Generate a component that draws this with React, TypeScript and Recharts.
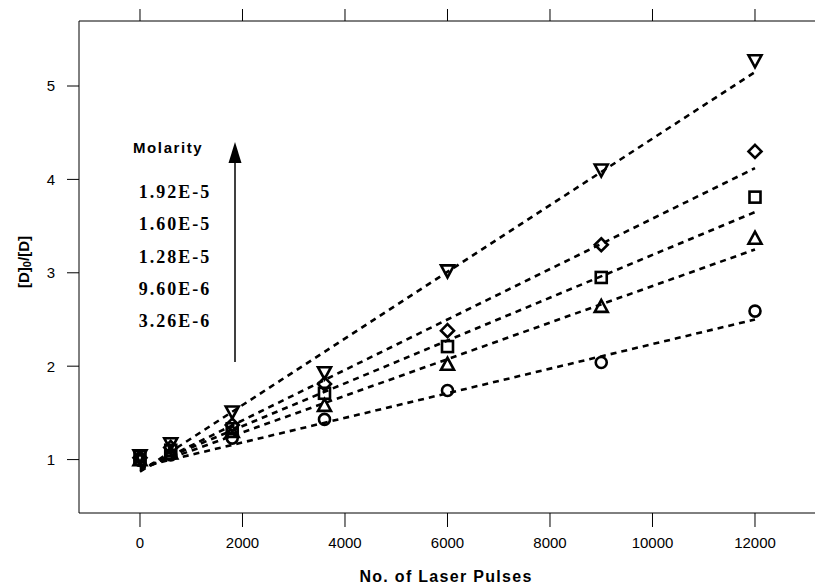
import { ComposedChart, Scatter, Line, XAxis, YAxis } from 'recharts';

// x positions (number of laser pulses)
const pulses = [0, 600, 1800, 3600, 6000, 9000, 12000];
const xTicks = [0, 2000, 4000, 6000, 8000, 10000, 12000];
const yTicks = [1, 2, 3, 4, 5];

// [D]0/[D] per molarity
const s192 = [1.04, 1.17, 1.51, 1.93, 3.02, 4.1, 5.27];
const s160 = [1.02, 1.13, 1.37, 1.81, 2.38, 3.3, 4.3];
const s128 = [1.03, 1.1, 1.33, 1.71, 2.21, 2.95, 3.81];
const s960 = [1.0, 1.07, 1.3, 1.58, 2.02, 2.64, 3.37];
const s326 = [0.99, 1.05, 1.23, 1.43, 1.74, 2.04, 2.59];

// fitted lines, read at both ends
const fitX = [0, 12000];
const fit192 = [0.87, 5.15];
const fit160 = [0.88, 4.12];
const fit128 = [0.9, 3.65];
const fit960 = [0.9, 3.25];
const fit326 = [0.92, 2.5];

const molarities = ['1.92E-5', '1.60E-5', '1.28E-5', '9.60E-6', '3.26E-6'];

const toPoints = (xs: number[], ys: number[]) => xs.map((x, i) => ({ x, y: ys[i] }));

const R = 6.5;
const mk = { fill: 'none', stroke: '#000', strokeWidth: 2.6 };

const DownTri = (p: any) => (
  <path d={`M${p.cx - R},${p.cy - R + 1}L${p.cx + R},${p.cy - R + 1}L${p.cx},${p.cy + R}Z`} {...mk} />
);
const UpTri = (p: any) => (
  <path d={`M${p.cx - R},${p.cy + R - 1}L${p.cx + R},${p.cy + R - 1}L${p.cx},${p.cy - R}Z`} {...mk} />
);
const Diamond = (p: any) => (
  <path d={`M${p.cx},${p.cy - R}L${p.cx + R},${p.cy}L${p.cx},${p.cy + R}L${p.cx - R},${p.cy}Z`} {...mk} />
);
const Square = (p: any) => (
  <rect x={p.cx - 5.5} y={p.cy - 5.5} width={11} height={11} {...mk} />
);
const Circle = (p: any) => <circle cx={p.cx} cy={p.cy} r={5.5} {...mk} />;

const series = [
  { ys: s192, fit: fit192, shape: DownTri },
  { ys: s160, fit: fit160, shape: Diamond },
  { ys: s128, fit: fit128, shape: Square },
  { ys: s960, fit: fit960, shape: UpTri },
  { ys: s326, fit: fit326, shape: Circle },
];

const tickFont = {
  fill: '#000',
  fontSize: 15,
  fontFamily: '"Liberation Sans Narrow", "Liberation Sans", Arial, sans-serif',
};

const NoLabel = () => <g />;

export default function App() {
  return (
    <div style={{ position: 'absolute', left: 0, top: 0, width: 815, height: 586, overflow: 'hidden', background: '#fff' }}>
      <ComposedChart width={880} height={586} margin={{ top: 9, right: 0, bottom: 0, left: 0 }}>
        <XAxis
          xAxisId="bottom"
          type="number"
          dataKey="x"
          domain={[-1190, 14439]}
          ticks={xTicks}
          allowDataOverflow
          stroke="#000"
          tickSize={14}
          tickMargin={10}
          tick={tickFont}
          tickLine={{ stroke: '#000' }}
          height={73}
        />
        <XAxis
          xAxisId="top"
          orientation="top"
          type="number"
          dataKey="x"
          domain={[-1190, 14439]}
          ticks={xTicks}
          allowDataOverflow
          stroke="#000"
          tickSize={12}
          tick={NoLabel}
          tickLine={{ stroke: '#000' }}
          height={12}
        />
        <YAxis
          type="number"
          domain={[0.428, 5.696]}
          ticks={yTicks}
          allowDataOverflow
          width={79}
          stroke="#000"
          tickSize={12}
          tickMargin={12}
          tick={tickFont}
        />
        {series.map((s, i) => (
          <Line
            key={'fit' + i}
            xAxisId="bottom"
            data={toPoints(fitX, s.fit)}
            dataKey="y"
            stroke="#000"
            strokeWidth={2.6}
            strokeDasharray="6 5"
            dot={false}
            activeDot={false}
            isAnimationActive={false}
          />
        ))}
        {series.map((s, i) => (
          <Scatter
            key={'pts' + i}
            xAxisId="bottom"
            data={toPoints(pulses, s.ys)}
            dataKey="y"
            shape={s.shape}
            isAnimationActive={false}
          />
        ))}
      </ComposedChart>
      <svg width={815} height={586} style={{ position: 'absolute', left: 0, top: 0, pointerEvents: 'none' }}>
        <text
          x={23}
          y={262}
          transform="rotate(-90 23 262)"
          textAnchor="middle"
          dominantBaseline="central"
          fontFamily='"Liberation Sans", Arial, sans-serif'
          fontWeight="bold"
          fontSize={15}
        >
          [D]<tspan fontSize={11} dy={4}>0</tspan>
          <tspan dy={-4}>/[D]</tspan>
        </text>
        <text
          x={446}
          y={582}
          textAnchor="middle"
          fontFamily='"Liberation Sans", Arial, sans-serif'
          fontWeight="bold"
          fontSize={16}
          letterSpacing={1.3}
        >
          No. of Laser Pulses
        </text>
        <text
          x={133}
          y={153}
          fontFamily='"Liberation Sans", Arial, sans-serif'
          fontWeight="bold"
          fontSize={15}
          letterSpacing={1.6}
        >
          Molarity
        </text>
        {molarities.map((m, i) => (
          <text
            key={m}
            x={175}
            y={198 + i * 32.3}
            textAnchor="middle"
            fontFamily='"Liberation Serif", "Times New Roman", serif'
            fontWeight="bold"
            fontSize={18}
            letterSpacing={2}
          >
            {m}
          </text>
        ))}
        <line x1={235} y1={362} x2={235} y2={160} stroke="#000" strokeWidth={1.5} />
        <path d="M228.5,163L241.5,163L235,142Z" fill="#000" />
      </svg>
    </div>
  );
}
